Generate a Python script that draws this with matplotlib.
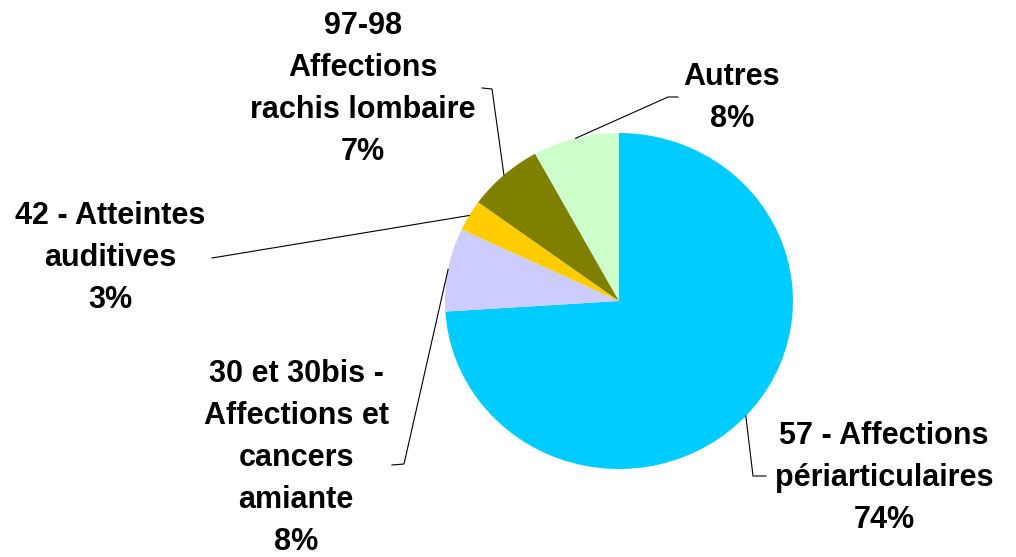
import matplotlib
matplotlib.use("Agg")
import matplotlib.pyplot as plt
import numpy as np

# données du camembert (sens horaire depuis midi)
categories = ['57 - Affections\npériarticulaires',
              '30 et 30bis -\nAffections et\ncancers\namiante',
              '42 - Atteintes\nauditives',
              '97-98\nAffections\nrachis lombaire',
              'Autres']
shares = [74, 8, 3, 7, 8]
colors = ['#00CCFF', '#CCCCFF', '#FFCC00', '#808000', '#CCFFCC']

# mise en page en pixels (image 1016x557)
W, H = 1016, 557
CX, CY = 619, 301      # centre du camembert
RX, RY = 174, 168      # rayons horizontal / vertical

text_pos = [(884, 478), (296, 458), (110, 258), (363, 89), (732, 98)]
# points du trait de rappel côté texte
leader_pts = [[(753, 476), (766, 476)],
              [(404, 464), (392, 465)],
              [(212, 258)],
              [(492, 89), (482, 88)],
              [(668, 97), (678, 97)]]


def px2data(px, py):
    return (px - CX) / RX, (CY - py) / RY


fig = plt.figure(figsize=(W / 100, H / 100), dpi=100, facecolor='white')
ax = fig.add_axes([0, 0, 1, 1])

wedges, _ = ax.pie(shares, colors=colors, startangle=90, counterclock=False,
                   radius=1, wedgeprops=dict(linewidth=0))

ax.set_aspect('auto')
ax.set_xlim(-CX / RX, (W - CX) / RX)
ax.set_ylim(-(H - CY) / RY, CY / RY)
ax.axis('off')

for i, w in enumerate(wedges):
    ang = np.deg2rad((w.theta1 + w.theta2) / 2)
    xs = [np.cos(ang)]
    ys = [np.sin(ang)]
    for px, py in leader_pts[i]:
        dx, dy = px2data(px, py)
        xs.append(dx)
        ys.append(dy)
    ax.plot(xs, ys, color='black', lw=0.8)

    tx, ty = px2data(*text_pos[i])
    ax.text(tx, ty, f'{categories[i]}\n{shares[i]}%', ha='center', va='center',
            multialignment='center', fontsize=22, fontweight='bold',
            family=['Liberation Sans', 'DejaVu Sans'], linespacing=1.53)

plt.savefig('out.png', dpi=100, facecolor='white')
